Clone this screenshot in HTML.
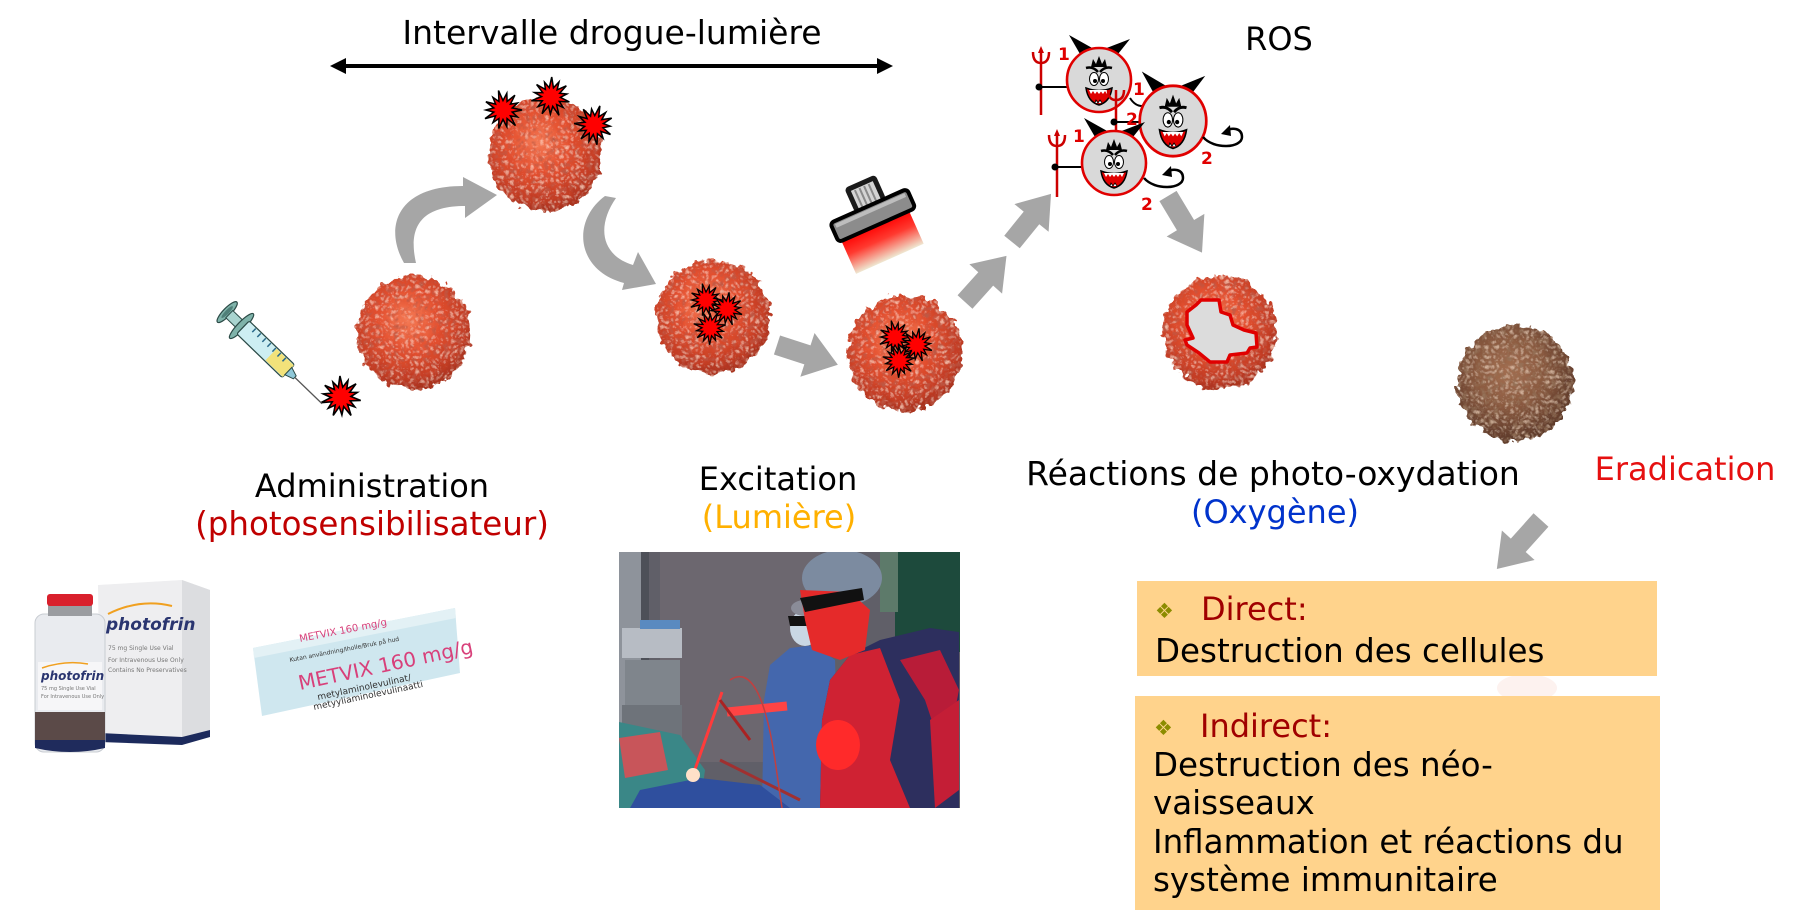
<!DOCTYPE html>
<html><head><meta charset="utf-8">
<style>
html,body{margin:0;padding:0;background:#fff;}
svg{display:block;}
text{font-family:"DejaVu Sans","Liberation Sans",sans-serif;}
</style></head><body>
<svg width="1800" height="915" viewBox="0 0 1800 915" xmlns="http://www.w3.org/2000/svg">
<defs>
  <radialGradient id="cellG" cx="45%" cy="40%" r="60%">
    <stop offset="0" stop-color="#f47a55"/>
    <stop offset="0.45" stop-color="#e4502f"/>
    <stop offset="0.85" stop-color="#c23c24"/>
    <stop offset="1" stop-color="#a8321e"/>
  </radialGradient>
  <radialGradient id="brownG" cx="45%" cy="40%" r="60%">
    <stop offset="0" stop-color="#a36e50"/>
    <stop offset="0.5" stop-color="#8a5a40"/>
    <stop offset="1" stop-color="#5e3a2a"/>
  </radialGradient>
  <filter id="cellTex" x="-25%" y="-25%" width="150%" height="150%">
    <feTurbulence type="fractalNoise" baseFrequency="0.13" numOctaves="2" seed="4" result="noise"/>
    <feDisplacementMap in="SourceGraphic" in2="noise" scale="13" xChannelSelector="R" yChannelSelector="G" result="disp"/>
    <feTurbulence type="turbulence" baseFrequency="0.16" numOctaves="2" seed="9" result="n2"/>
    <feColorMatrix in="n2" type="matrix" values="0 0 0 0 0.5  0 0 0 0 0.1  0 0 0 0 0.06  1.8 0 0 0 -0.35" result="spots"/>
    <feComposite in="spots" in2="disp" operator="atop" result="tex"/>
    <feTurbulence type="turbulence" baseFrequency="0.2" numOctaves="2" seed="21" result="n3"/>
    <feColorMatrix in="n3" type="matrix" values="0 0 0 0 1  0 0 0 0 0.62  0 0 0 0 0.48  1.5 0 0 0 -0.4" result="hi"/>
    <feComposite in="hi" in2="tex" operator="atop"/>
  </filter>
  <filter id="brownTex" x="-25%" y="-25%" width="150%" height="150%">
    <feTurbulence type="fractalNoise" baseFrequency="0.13" numOctaves="2" seed="7" result="noise"/>
    <feDisplacementMap in="SourceGraphic" in2="noise" scale="13" xChannelSelector="R" yChannelSelector="G" result="disp"/>
    <feTurbulence type="turbulence" baseFrequency="0.16" numOctaves="2" seed="12" result="n2"/>
    <feColorMatrix in="n2" type="matrix" values="0 0 0 0 0.3  0 0 0 0 0.17  0 0 0 0 0.1  1.8 0 0 0 -0.35" result="spots"/>
    <feComposite in="spots" in2="disp" operator="atop" result="tex"/>
    <feTurbulence type="turbulence" baseFrequency="0.2" numOctaves="2" seed="25" result="n3"/>
    <feColorMatrix in="n3" type="matrix" values="0 0 0 0 0.78  0 0 0 0 0.56  0 0 0 0 0.42  1.5 0 0 0 -0.4" result="hi"/>
    <feComposite in="hi" in2="tex" operator="atop"/>
  </filter>
  <linearGradient id="beamG" x1="0" y1="0" x2="0" y2="1">
    <stop offset="0" stop-color="#ff0000"/>
    <stop offset="0.45" stop-color="#ff3a30"/>
    <stop offset="1" stop-color="#efe8d2"/>
  </linearGradient>
  <polygon id="star" points="20,0 9.7,2.2 15.3,7.4 7.8,6.2 13.1,16.4 4.3,9 4,17.5 0,10 -4.5,19.5 -4.3,9 -10.6,13.3 -7.8,6.2 -18.9,9.1 -9.7,2.2 -18,0 -9.7,-2.2 -18,-8.7 -7.8,-6.2 -10.6,-13.3 -4.3,-9 -4.7,-20.5 0,-10 4,-17.5 4.3,-9 12.5,-15.6 7.8,-6.2 15.3,-7.4 9.7,-2.2" fill="#ff0000" stroke="#000" stroke-width="1.6" stroke-linejoin="miter"/>
  <g id="devil">
    <path d="M-19,-26 L-30,-45 L-5,-31 Z" fill="#000"/>
    <path d="M5,-31 L31,-41 L19,-26 Z" fill="#000"/>
    <circle r="32" fill="#d9d9d9" stroke="#e00000" stroke-width="2.6"/>
    <path d="M-8,-13 L-6,-21 L-3,-16 L0,-24 L3,-16 L6,-21 L8,-13 Z" fill="#000"/>
    <path d="M-13,-12 Q-6,-14 -1,-8" stroke="#000" stroke-width="2.6" fill="none"/>
    <path d="M13,-12 Q6,-14 1,-8" stroke="#000" stroke-width="2.6" fill="none"/>
    <ellipse cx="-5" cy="-1" rx="4.5" ry="6.5" fill="#fff" stroke="#000" stroke-width="1"/>
    <ellipse cx="5" cy="-1" rx="4.5" ry="6.5" fill="#fff" stroke="#000" stroke-width="1"/>
    <circle cx="-4" cy="1" r="2" fill="#000"/>
    <circle cx="4" cy="1" r="2" fill="#000"/>
    <path d="M-13,8 Q0,13 13,8 Q11,22 0,25 Q-11,22 -13,8 Z" fill="#e00000" stroke="#000" stroke-width="1.5"/>
    <path d="M-10,10 L-8,14 L-6,11 L-4,14 L-2,11.5 L0,14 L2,11.5 L4,14 L6,11 L8,14 L10,10 Z" fill="#fff"/>
    <path d="M-4,23 L-3,20 L-1,23 L1,20 L3,23" fill="#fff" stroke="#000" stroke-width="0.8"/>
  </g>
</defs>

<!-- Title and double arrow -->
<text x="612" y="44" font-size="33" text-anchor="middle" fill="#000">Intervalle drogue-lumière</text>
<line x1="340" y1="66" x2="883" y2="66" stroke="#000" stroke-width="4"/>
<polygon points="330,66 346,58 346,74" fill="#000"/>
<polygon points="893,66 877,58 877,74" fill="#000"/>

<!-- ROS -->
<text x="1279" y="50" font-size="32" text-anchor="middle" fill="#000">ROS</text>

<!-- Cells -->
<g filter="url(#cellTex)"><circle cx="414" cy="332" r="57" fill="url(#cellG)"/></g>
<g filter="url(#cellTex)"><circle cx="545" cy="154" r="57" fill="url(#cellG)"/></g>
<g filter="url(#cellTex)"><circle cx="713" cy="317" r="57" fill="url(#cellG)"/></g>
<g filter="url(#cellTex)"><circle cx="905" cy="353" r="58" fill="url(#cellG)"/></g>
<g filter="url(#cellTex)"><circle cx="1220" cy="333" r="57" fill="url(#cellG)"/></g>
<g filter="url(#brownTex)"><circle cx="1515" cy="383" r="58" fill="url(#brownG)"/></g>

<!-- hole in cell -->
<polygon points="1201,300 1219,300 1221,312 1230,315 1233,325 1244,330 1256,333 1257,347 1250,348 1247,353 1230,355 1227,362 1210,362 1199,353 1187,345 1185,340 1193,338 1187,325 1187,312 1196,305" fill="#dcdcdc" stroke="#e00000" stroke-width="3.5" stroke-linejoin="round"/>

<!-- stars -->
<use href="#star" transform="translate(503,110) scale(0.95)"/>
<use href="#star" transform="translate(551,97) scale(0.95) rotate(15)"/>
<use href="#star" transform="translate(594,125) scale(0.95) rotate(30)"/>
<use href="#star" transform="translate(341,397) scale(1.0) rotate(10)"/>
<use href="#star" transform="translate(706,300) scale(0.8)"/>
<use href="#star" transform="translate(727,309) scale(0.8) rotate(20)"/>
<use href="#star" transform="translate(710,328) scale(0.8) rotate(40)"/>
<use href="#star" transform="translate(895,337) scale(0.8)"/>
<use href="#star" transform="translate(917,345) scale(0.8) rotate(20)"/>
<use href="#star" transform="translate(899,361) scale(0.8) rotate(40)"/>

<!-- syringe -->
<g transform="translate(225,310) rotate(44)">
  <ellipse cx="3" cy="0" rx="4" ry="14" fill="#7fb3aa" stroke="#2b4a46" stroke-width="1.2"/>
  <ellipse cx="3" cy="0" rx="2" ry="8" fill="#4f7f78"/>
  <rect x="6" y="-5" width="16" height="10" fill="#a9d4cf" stroke="#2b4a46" stroke-width="1"/>
  <ellipse cx="23" cy="0" rx="4" ry="17" fill="#7fb3aa" stroke="#2b4a46" stroke-width="1.2"/>
  <rect x="25" y="-9" width="63" height="18" rx="2" fill="#cdeef2" stroke="#2b4a46" stroke-width="1.2"/>
  <rect x="64" y="-8" width="24" height="16" fill="#f2e27a"/>
  <path d="M35,-8 V-3 M42,-8 V-3 M49,-8 V-3 M56,-8 V-3 M63,-8 V-3 M70,-8 V-3 M77,-8 V-3" stroke="#2a6a8a" stroke-width="1.5"/>
  <path d="M88,-5 L97,-2 L97,2 L88,5 Z" fill="#8fc8d8" stroke="#2b4a46" stroke-width="1"/>
  <line x1="97" y1="0" x2="135" y2="0" stroke="#555" stroke-width="1.3"/>
</g>

<!-- curved grey arrows -->
<path d="M404,263 C384,228 396,186 463,186 L463,177 L497,195 L465,218 L465,206 C420,206 408,228 416,263 Z" fill="#a6a6a6"/>
<path d="M605,196 C572,220 575,270 624,283 L622,290 L656,284 L638,252 L633,265 C600,255 597,225 616,198 Z" fill="#a6a6a6"/>

<!-- straight grey arrows -->
<path transform="translate(777,345) rotate(18)" d="M0,-10 L32,-10 L32,-23 L64,0 L32,23 L32,10 L0,10 Z" fill="#a6a6a6"/>
<path transform="translate(965,302) rotate(-48)" d="M0,-10 L31,-10 L31,-22 L62,0 L31,22 L31,10 L0,10 Z" fill="#a6a6a6"/>
<path transform="translate(1012,242) rotate(-51)" d="M0,-10 L31,-10 L31,-22 L62,0 L31,22 L31,10 L0,10 Z" fill="#a6a6a6"/>
<path transform="translate(1168,196) rotate(59)" d="M0,-10 L34,-10 L34,-22 L66,0 L34,22 L34,10 L0,10 Z" fill="#a6a6a6"/>
<path transform="translate(1541,520) rotate(132)" d="M0,-10 L34,-10 L34,-22 L66,0 L34,22 L34,10 L0,10 Z" fill="#a6a6a6"/>

<!-- lamp -->
<g transform="translate(873,216) rotate(-24)">
  <rect x="-39" y="8" width="74" height="38" fill="url(#beamG)"/>
  <rect x="-15" y="-37" width="34" height="27" rx="4" fill="#1a1a1a"/>
  <rect x="-10" y="-32" width="24" height="21" fill="#d4d4d4"/>
  <path d="M-6,-31 V-12 M-1,-31 V-12 M4,-31 V-12 M9,-31 V-12" stroke="#8a8a8a" stroke-width="2"/>
  <rect x="-42" y="-11" width="84" height="21" rx="4" fill="#8c8c8c" stroke="#000" stroke-width="4"/>
  <rect x="-38" y="-8" width="76" height="4" fill="#bdbdbd"/>
</g>

<!-- tridents and devils -->
<g stroke="#cc0000" stroke-width="2.5" fill="none">
  <line x1="1041" y1="52" x2="1041" y2="115"/>
  <path d="M1033,52 Q1033,63 1041,63 Q1049,63 1049,52"/>
  <line x1="1057" y1="135" x2="1057" y2="197"/>
  <path d="M1049,135 Q1049,146 1057,146 Q1065,146 1065,135"/>
</g>
<path d="M1041,46 L1038,53 L1044,53 Z M1057,129 L1054,136 L1060,136 Z" fill="#cc0000"/>
<line x1="1039" y1="87" x2="1068" y2="87" stroke="#000" stroke-width="2"/>
<circle cx="1039" cy="87" r="3.5" fill="#000"/>
<line x1="1055" y1="167" x2="1082" y2="167" stroke="#000" stroke-width="2"/>
<circle cx="1055" cy="167" r="3.5" fill="#000"/>

<use href="#devil" transform="translate(1099,80)"/>

<g stroke="#cc0000" stroke-width="2.5" fill="none">
  <line x1="1116" y1="90" x2="1116" y2="131"/>
  <path d="M1108,90 Q1108,100 1116,100 Q1124,100 1124,90"/>
</g>
<path d="M1130,98 Q1135,106 1142,106" stroke="#000" stroke-width="2" fill="none"/>
<line x1="1114" y1="122" x2="1141" y2="122" stroke="#000" stroke-width="2"/>
<circle cx="1114" cy="122" r="3.5" fill="#000"/>

<use href="#devil" transform="translate(1173,121) scale(1.04,1.1)"/>
<use href="#devil" transform="translate(1114,163)"/>

<!-- curly arrows -->
<path d="M1203,137 C1214,150 1242,148 1242,137 C1242,128 1232,127 1226,131" stroke="#000" stroke-width="2.5" fill="none"/>
<path d="M1221,134 L1230,125 L1231,136 Z" fill="#000"/>
<path d="M1144,178 C1155,191 1183,189 1183,178 C1183,169 1173,168 1167,172" stroke="#000" stroke-width="2.5" fill="none"/>
<path d="M1162,175 L1171,166 L1172,177 Z" fill="#000"/>

<!-- numbers -->
<g font-family="Liberation Sans, sans-serif" font-weight="bold" font-size="17" fill="#e00000">
  <text x="1058" y="60">1</text>
  <text x="1133" y="95">1</text>
  <text x="1126" y="125">2</text>
  <text x="1073" y="142">1</text>
  <text x="1201" y="164">2</text>
  <text x="1141" y="210">2</text>
</g>

<!-- labels -->
<text x="372" y="497" font-size="32" text-anchor="middle" fill="#000">Administration</text>
<text x="372" y="535" font-size="32.5" text-anchor="middle" fill="#c00000">(photosensibilisateur)</text>
<text x="778" y="490" font-size="32" text-anchor="middle" fill="#000">Excitation</text>
<text x="779" y="528" font-size="32" text-anchor="middle" fill="#ffb000">(Lumière)</text>
<text x="1273" y="485" font-size="33" text-anchor="middle" fill="#000">Réactions de photo-oxydation</text>
<text x="1275" y="523" font-size="32" text-anchor="middle" fill="#0033cc">(Oxygène)</text>
<text x="1685" y="480" font-size="32" text-anchor="middle" fill="#e61010">Eradication</text>

<!-- boxes -->
<ellipse cx="1527" cy="688" rx="30" ry="14" fill="#fdf2ef"/>
<rect x="1137" y="581" width="520" height="95" fill="#ffd38c"/>
<text x="1155" y="618" font-size="21" fill="#8c8c00">❖</text>
<text x="1201" y="620" font-size="32" fill="#a00000">Direct:</text>
<text x="1155" y="662" font-size="32.5" fill="#000">Destruction des cellules</text>

<rect x="1135" y="696" width="525" height="214" fill="#ffd38c"/>
<text x="1154" y="735" font-size="21" fill="#8c8c00">❖</text>
<text x="1200" y="737" font-size="32" fill="#a00000">Indirect:</text>
<text x="1153" y="776" font-size="32.5" fill="#000">Destruction des néo-</text>
<text x="1153" y="814" font-size="32.5" fill="#000">vaisseaux</text>
<text x="1153" y="853" font-size="32.5" fill="#000">Inflammation et réactions du</text>
<text x="1153" y="891" font-size="32.5" fill="#000">système immunitaire</text>

<!-- photo -->
<clipPath id="pc"><rect x="619" y="552" width="341" height="256"/></clipPath>
<g clip-path="url(#pc)">
  <rect x="619" y="552" width="341" height="256" fill="#605f68"/>
  <rect x="660" y="552" width="160" height="210" fill="#6c676f"/>
  <rect x="619" y="552" width="22" height="256" fill="#8e939b"/>
  <rect x="641" y="552" width="8" height="150" fill="#4d5058"/>
  <rect x="622" y="628" width="60" height="30" fill="#b7bcc4"/>
  <rect x="640" y="620" width="40" height="9" fill="#5a8ac0"/>
  <rect x="625" y="660" width="55" height="45" fill="#7f858c"/>
  <rect x="622" y="705" width="60" height="40" fill="#6e737a"/>
  <rect x="895" y="552" width="65" height="100" fill="#1d4a3c"/>
  <rect x="880" y="552" width="18" height="60" fill="#5d7a6a"/>
  <path d="M762,808 L764,700 L770,665 L790,648 L815,645 L835,660 L840,808 Z" fill="#4467ad"/>
  <ellipse cx="805" cy="628" rx="15" ry="18" fill="#c9d7e4"/>
  <path d="M788,616 L822,616 L820,626 L790,626 Z" fill="#111"/>
  <ellipse cx="805" cy="608" rx="14" ry="8" fill="#8a8c98"/>
  <path d="M820,808 L822,720 L830,680 L850,655 L880,640 L930,628 L959,632 L959,808 Z" fill="#2d2f5e"/>
  <path d="M820,808 L822,720 L830,680 L850,655 L880,648 L900,700 L890,760 L910,808 Z" fill="#cf2233"/>
  <path d="M900,660 L940,650 L959,690 L945,760 L925,700 Z" fill="#b81c38"/>
  <path d="M930,720 L959,700 L959,790 L935,808 Z" fill="#c41e36"/>
  <ellipse cx="838" cy="745" rx="22" ry="25" fill="#ff2a2a"/>
  <ellipse cx="842" cy="578" rx="40" ry="28" fill="#7c8ba0"/>
  <path d="M800,590 L850,592 L870,610 L865,650 L840,660 L812,650 L805,620 Z" fill="#e52a2a"/>
  <path d="M800,598 L862,588 L864,600 L805,612 Z" fill="#111"/>
  <path d="M619,722 L680,735 L705,770 L700,808 L619,808 Z" fill="#3a8787"/>
  <path d="M640,790 L700,778 L760,785 L790,808 L630,808 Z" fill="#2f4f9e"/>
  <path d="M619,738 L660,732 L668,770 L625,778 Z" fill="#c8555a"/>
  <line x1="693" y1="775" x2="722" y2="692" stroke="#ff3b3b" stroke-width="3"/>
  <line x1="727" y1="712" x2="787" y2="706" stroke="#ff4444" stroke-width="9"/>
  <line x1="720" y1="700" x2="750" y2="740" stroke="#aa2222" stroke-width="3"/>
  <line x1="720" y1="760" x2="800" y2="800" stroke="#a03030" stroke-width="3"/>
  <path d="M730,680 Q760,660 775,760 L782,808" stroke="#c04040" stroke-width="1.5" fill="none"/>
  <circle cx="693" cy="775" r="7" fill="#ffe0c8"/>
</g>

<!-- photofrin vial and box -->
<path d="M98,585 L182,580 L210,590 L210,735 L182,743 L100,740 Z" fill="#eeeef0"/>
<path d="M182,580 L210,590 L210,735 L182,743 Z" fill="#dcdde0"/>
<path d="M100,733 L182,737 L210,730 L210,737 L182,745 L100,742 Z" fill="#1c2a5c"/>
<path d="M108,614 Q140,598 172,606" stroke="#f0a020" stroke-width="2" fill="none"/>
<text x="106" y="630" font-size="17" font-style="italic" font-weight="bold" fill="#2a3570">photofrin</text>
<g fill="#777" font-size="6">
  <text x="108" y="650">75 mg Single Use Vial</text>
  <text x="108" y="662">For Intravenous Use Only</text>
  <text x="108" y="672">Contains No Preservatives</text>
</g>
<rect x="35" y="614" width="70" height="138" rx="9" fill="#e9ebef" stroke="#c8ccd2"/>
<rect x="35" y="712" width="70" height="32" fill="#5b4a48"/>
<path d="M35,740 L105,740 L105,748 Q70,756 35,748 Z" fill="#1f2b5c"/>
<rect x="38" y="662" width="64" height="48" fill="#f6f6f8"/>
<path d="M42,668 Q65,660 88,664" stroke="#f0a020" stroke-width="1.5" fill="none"/>
<text x="41" y="680" font-size="12" font-style="italic" font-weight="bold" fill="#2a3570">photofrin</text>
<g fill="#777" font-size="5"><text x="41" y="690">75 mg Single Use Vial</text><text x="41" y="698">For Intravenous Use Only</text></g>
<rect x="48" y="604" width="44" height="12" fill="#9a9ca0"/>
<rect x="47" y="594" width="46" height="12" rx="3" fill="#d9202c"/>

<!-- metvix box -->
<path d="M253,648 L455,608 L460,673 L262,716 Z" fill="#cfe7ef"/>
<path d="M253,648 L455,608 L456,618 L254,658 Z" fill="#e3f1f5"/>
<g transform="translate(300,642) rotate(-11)"><text font-size="10" fill="#d8407a">METVIX 160 mg/g</text></g>
<g transform="translate(290,662) rotate(-11)"><text font-size="6" fill="#333">Kutan användning/Iholle/Bruk på hud</text></g>
<g transform="translate(300,690) rotate(-12)"><text font-size="20" fill="#d8407a">METVIX 160 mg/g</text></g>
<g transform="translate(318,700) rotate(-12)"><text font-size="9" fill="#333">metylaminolevulinat/</text></g>
<g transform="translate(314,710) rotate(-12)"><text font-size="9" fill="#333">metyyliaminolevulinaatti</text></g>
</svg>
</body></html>
